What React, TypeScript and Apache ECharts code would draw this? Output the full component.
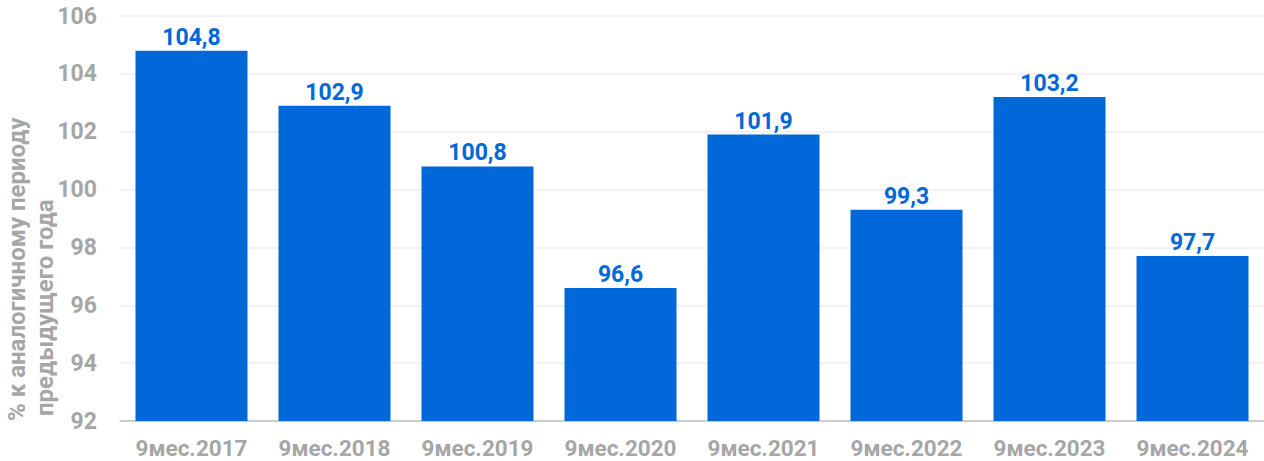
import React, { useEffect, useRef } from "react";
import * as echarts from "echarts";

const categories = ["9мес.2017", "9мес.2018", "9мес.2019", "9мес.2020", "9мес.2021", "9мес.2022", "9мес.2023", "9мес.2024"];
const values = [104.8, 102.9, 100.8, 96.6, 101.9, 99.3, 103.2, 97.7];
const yNameLines = ["% к аналогичному периоду", "предыдущего года"];

export default function App() {
  const ref = useRef<HTMLDivElement>(null);
  useEffect(() => {
    if (!ref.current) return;
    const chart = echarts.init(ref.current, null, { renderer: "svg" });
    const gray = "#a6a6a6";
    const font = "Roboto";
    chart.setOption({
      animation: false,
      textStyle: { fontFamily: font },
      grid: { left: 120, right: 0, top: 16, bottom: 40, containLabel: false },
      xAxis: {
        type: "category",
        data: categories,
        axisLine: { lineStyle: { color: "#bfbfbf", width: 1.5 } },
        axisTick: { show: false },
        axisLabel: {
          color: gray,
          fontSize: 22.5,
          lineHeight: 18,
          fontWeight: "bold",
          fontFamily: font,
          margin: 18,
          interval: 0,
          hideOverlap: false,
        },
      },
      yAxis: {
        type: "value",
        min: 92,
        max: 106,
        interval: 2,
        axisLine: { show: false },
        axisTick: { show: false },
        splitLine: { lineStyle: { color: "#eeeeee", width: 1.5 } },
        axisLabel: { color: gray, fontSize: 23, fontWeight: "bold", fontFamily: font, margin: 23 },
      },
      graphic: [
        {
          type: "text",
          x: 5,
          y: 421,
          rotation: Math.PI / 2,
          style: { text: yNameLines[0], fill: gray, font: `bold 24px ${font}`, textAlign: "left", textVerticalAlign: "top" },
        },
        {
          type: "text",
          x: 33,
          y: 416,
          rotation: Math.PI / 2,
          style: { text: yNameLines[1], fill: gray, font: `bold 24px ${font}`, textAlign: "left", textVerticalAlign: "top" },
        },
      ],
      series: [
        {
          type: "bar",
          data: values,
          barWidth: 112,
          itemStyle: { color: "#0068d9" },
          label: {
            show: true,
            position: "top",
            distance: 2,
            color: "#0068d9",
            fontSize: 23,
            fontWeight: "bold",
            fontFamily: font,
            formatter: (p: any) => String(p.value).replace(".", ","),
          },
        },
      ],
    });
    return () => chart.dispose();
  }, []);
  return <div ref={ref} style={{ position: "absolute", left: 0, top: 0, width: 1264, height: 461 }} />;
}
